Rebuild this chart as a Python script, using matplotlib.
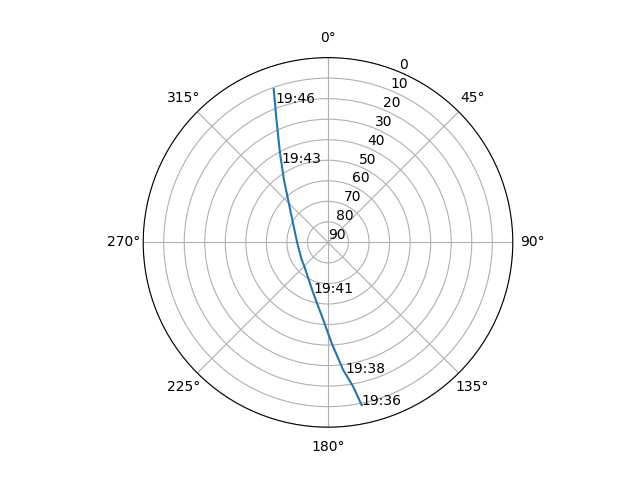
import matplotlib
matplotlib.use("Agg")
import matplotlib.pyplot as plt
import numpy as np

# trajetória (azimute em graus, elevação em graus)
path_az = [168.3, 170.1, 173.2, 177.9, 183.5, 196.1, 224.0, 236.2, 269.4,
           302.1, 324.8, 332.0, 337.4, 340.5]
path_el = [9.1, 18.7, 27.4, 40.8, 52.2, 64.2, 73.5, 74.6, 75.0,
           69.5, 52.8, 40.0, 24.5, 10.8]

# rótulos de horário ao longo da passagem
label_times = ["19:36", "19:38", "19:41", "19:43", "19:46"]
label_az = [168.3, 172.6, 196.1, 329.3, 339.2]
label_el = [9.1, 25.7, 64.2, 45.2, 17.3]

fig = plt.figure(figsize=(6.4, 4.8), dpi=100)
ax = fig.add_subplot(111, projection="polar")
ax.set_theta_zero_location("N")
ax.set_theta_direction(-1)

ax.plot(np.radians(path_az), path_el)

for t, az, el in zip(label_times, label_az, label_el):
    ax.text(np.radians(az), el, t)

ax.set_ylim(90, 0)
ax.set_yticks(range(0, 91, 10))

fig.savefig("out.png", dpi=100)
